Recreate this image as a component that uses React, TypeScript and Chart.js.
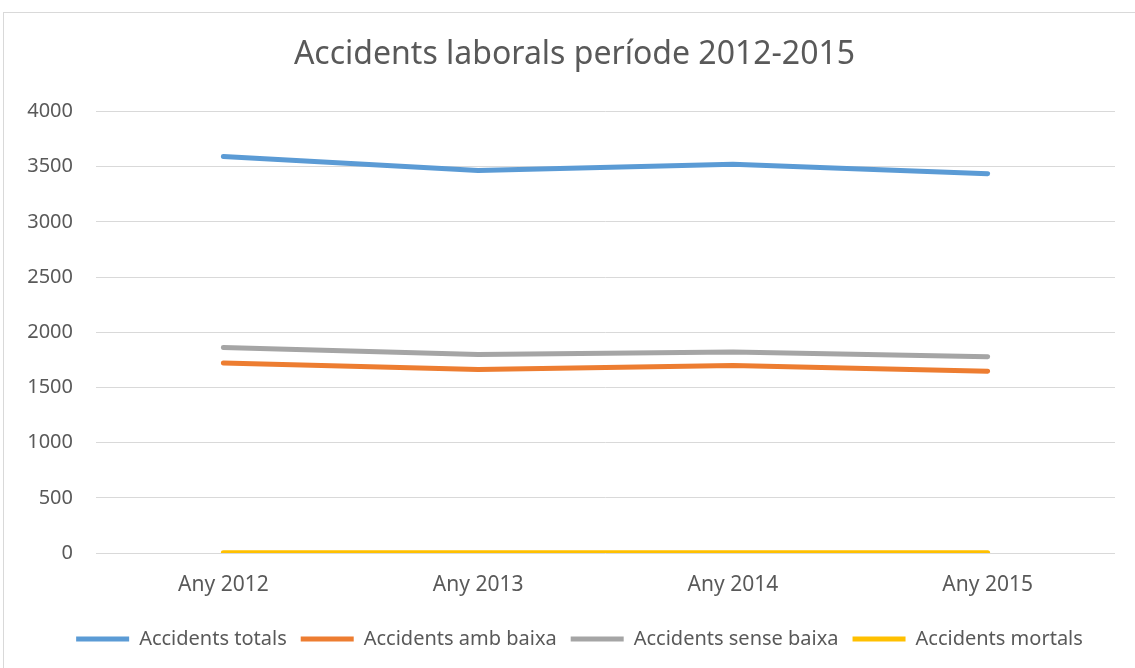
import React, { useEffect, useRef } from "react";
import { Chart, registerables } from "chart.js";

Chart.register(...registerables);

const titleText = "Accidents laborals període 2012-2015";
const categories = ["Any 2012", "Any 2013", "Any 2014", "Any 2015"];
const accidentsTotals = [3592, 3465, 3522, 3435];
const accidentsAmbBaixa = [1722, 1662, 1698, 1646];
const accidentsSenseBaixa = [1862, 1798, 1820, 1778];
const accidentsMortals = [3, 2, 3, 2];
const seriesNames = [
  "Accidents totals",
  "Accidents amb baixa",
  "Accidents sense baixa",
  "Accidents mortals",
];
const seriesColors = ["#5B9BD5", "#ED7D31", "#A5A5A5", "#FFC000"];
const yMin = 0;
const yMax = 4000;
const yStep = 500;

const FONT = "'Noto Sans', 'Open Sans', sans-serif";
const TEXT = "#595959";

const framePlugin = {
  id: "frame",
  beforeDraw(chart: any) {
    const ctx = chart.ctx;
    ctx.save();
    ctx.fillStyle = "#ffffff";
    ctx.fillRect(0, 0, chart.width, chart.height);
    ctx.strokeStyle = "#d9d9d9";
    ctx.lineWidth = 1;
    ctx.strokeRect(3.5, 12.5, chart.width + 20, chart.height + 20);
    ctx.restore();
  },
};

const centerPlugin = {
  id: "centerShift",
  afterLayout(chart: any) {
    if (chart.legend) {
      chart.legend.left += 22;
      chart.legend.right += 22;
    }
    if (chart.titleBlock) {
      chart.titleBlock.left += 17;
      chart.titleBlock.right += 17;
    }
  },
};

export default function App() {
  const canvasRef = useRef<HTMLCanvasElement | null>(null);

  useEffect(() => {
    if (!canvasRef.current) return;
    const values = [accidentsTotals, accidentsAmbBaixa, accidentsSenseBaixa, accidentsMortals];
    const chart = new Chart(canvasRef.current, {
      type: "line",
      data: {
        labels: categories,
        datasets: values.map((v, i) => ({
          label: seriesNames[i],
          data: v,
          borderColor: seriesColors[i],
          backgroundColor: seriesColors[i],
          borderWidth: 5,
          pointRadius: 0,
          pointHoverRadius: 0,
          borderCapStyle: "round" as const,
          borderJoinStyle: "round" as const,
          tension: 0,
          fill: false,
        })),
      },
      options: {
        animation: false,
        responsive: false,
        maintainAspectRatio: false,
        layout: { padding: { left: 0, right: 20, top: 0, bottom: 9 } },
        plugins: {
          tooltip: { enabled: false },
          title: {
            display: true,
            text: titleText,
            color: TEXT,
            font: { family: FONT, size: 32, weight: "normal" as const, lineHeight: 1.2 },
            padding: { top: 36, bottom: 37 },
          },
          legend: {
            display: true,
            position: "bottom",
            labels: {
              color: TEXT,
              font: { family: FONT, size: 20 },
              boxWidth: 53,
              boxHeight: 5,
              padding: 14,
              generateLabels: (c: any) =>
                c.data.datasets.map((d: any, i: number) => ({
                  text: d.label,
                  fillStyle: d.borderColor,
                  strokeStyle: d.borderColor,
                  lineWidth: 0,
                  fontColor: TEXT,
                  hidden: false,
                  datasetIndex: i,
                })),
            },
          },
        },
        scales: {
          x: {
            offset: true,
            grid: { display: false, drawTicks: false },
            border: { display: false },
            ticks: { color: TEXT, font: { family: FONT, size: 21 }, padding: 19, maxRotation: 0 },
            afterFit: (s: any) => {
              s.height = 62;
            },
          },
          y: {
            min: yMin,
            max: yMax,
            grid: { color: "#d9d9d9", lineWidth: 1, drawTicks: false },
            border: { display: false },
            ticks: {
              stepSize: yStep,
              color: TEXT,
              font: { family: FONT, size: 20 },
              padding: 23,
              callback: (v: any) => String(v),
            },
            afterFit: (s: any) => {
              s.width = 96;
            },
          },
        },
      },
      plugins: [framePlugin, centerPlugin],
    });
    return () => chart.destroy();
  }, []);

  return (
    <div style={{ position: "absolute", left: 0, top: 0, width: 1135, height: 668 }}>
      <canvas ref={canvasRef} width={1135} height={668} style={{ display: "block" }} />
    </div>
  );
}
